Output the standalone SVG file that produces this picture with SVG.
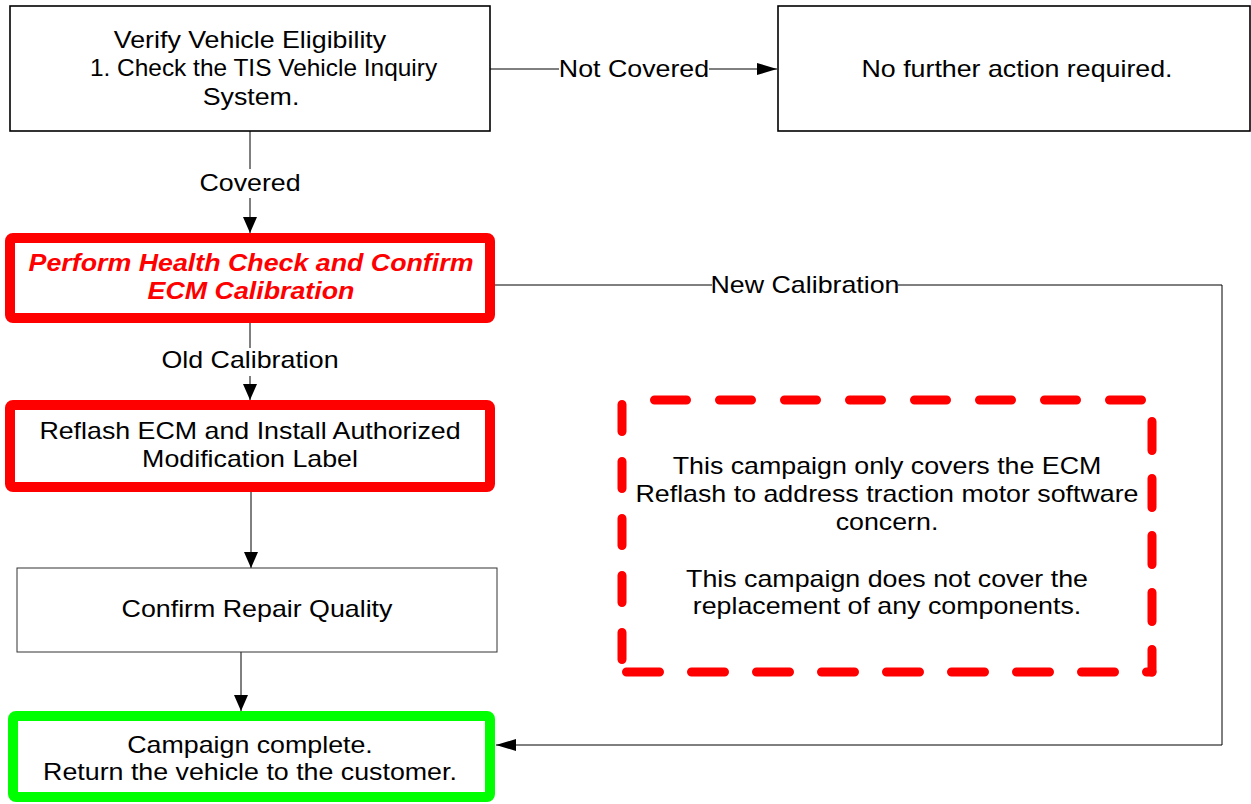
<svg xmlns="http://www.w3.org/2000/svg" width="1251" height="804" viewBox="0 0 1251 804">
<defs>
<marker id="ah" viewBox="0 0 16 14" refX="16" refY="7" markerWidth="16" markerHeight="14" markerUnits="userSpaceOnUse" orient="auto"><path d="M0,0 L16,7 L0,14 z" fill="#000"/></marker>
<marker id="ahw" viewBox="0 0 20 12" refX="20" refY="6" markerWidth="20" markerHeight="12" markerUnits="userSpaceOnUse" orient="auto"><path d="M0,0 L20,6 L0,12 z" fill="#000"/></marker>
</defs>
<style>
text{font-family:"Liberation Sans",Arial,sans-serif;font-size:23px;fill:#000;text-anchor:middle}
.box{fill:#fff;stroke:#000;stroke-width:1.6}
.thin{fill:#fff;stroke:#333;stroke-width:1}
.red{fill:#fff;stroke:#f00;stroke-width:10}
.green{fill:#fff;stroke:#0f0;stroke-width:10}
.conn{fill:none;stroke:#000;stroke-width:1}
.lbl{fill:#fff}
.rt{fill:#f00;font-weight:bold;font-style:italic}
.dash{fill:none;stroke:#f00;stroke-width:9;stroke-linecap:round}
</style>
<rect width="1251" height="804" fill="#fff"/>
<g id="connectors">
<path class="conn" d="M490,69 H777" marker-end="url(#ahw)"/>
<rect class="lbl" x="559" y="56" width="150" height="26"/>
<text transform="translate(634,77) scale(1.165,1)">Not Covered</text>
<path class="conn" d="M250,131 V233" marker-end="url(#ah)"/>
<rect class="lbl" x="198" y="169" width="104" height="29"/>
<text transform="translate(250,191) scale(1.165,1)">Covered</text>
<path class="conn" d="M250,323 V400" marker-end="url(#ah)"/>
<rect class="lbl" x="160" y="348" width="180" height="28"/>
<text transform="translate(250,368) scale(1.165,1)">Old Calibration</text>
<path class="conn" d="M251,492 V568" marker-end="url(#ah)"/>
<path class="conn" d="M241,652 V711" marker-end="url(#ah)"/>
<path class="conn" d="M495,285 H1222 V745 H496" marker-end="url(#ahw)"/>
<rect class="lbl" x="712" y="272" width="186" height="26"/>
<text transform="translate(805,293) scale(1.165,1)">New Calibration</text>
</g>
<g id="verify">
<rect class="box" x="10" y="6" width="480" height="125"/>
<text transform="translate(250,48) scale(1.165,1)">Verify Vehicle Eligibility</text>
<text transform="translate(263.5,76) scale(1.165,1)" textLength="298" lengthAdjust="spacingAndGlyphs">1. Check the TIS Vehicle Inquiry</text>
<text transform="translate(251,105) scale(1.165,1)">System.</text>
</g>
<g id="nofurther">
<rect class="box" x="778" y="6" width="472" height="125"/>
<text transform="translate(1017,77) scale(1.165,1)">No further action required.</text>
</g>
<g id="health">
<rect class="red" x="10" y="238" width="480" height="80" rx="3"/>
<text class="rt" transform="translate(251,271) scale(1.165,1)">Perform Health Check and Confirm</text>
<text class="rt" transform="translate(251,299) scale(1.165,1)">ECM Calibration</text>
</g>
<g id="reflash">
<rect class="red" x="10" y="405" width="480" height="82" rx="3"/>
<text transform="translate(250,439) scale(1.165,1)">Reflash ECM and Install Authorized</text>
<text transform="translate(250,467) scale(1.165,1)">Modification Label</text>
</g>
<g id="confirm">
<rect class="thin" x="17" y="568" width="480" height="84"/>
<text transform="translate(257,617) scale(1.165,1)">Confirm Repair Quality</text>
</g>
<g id="complete">
<rect class="green" x="13" y="716" width="477" height="81" rx="3"/>
<text transform="translate(250,753) scale(1.165,1)">Campaign complete.</text>
<text transform="translate(250,780) scale(1.165,1)">Return the vehicle to the customer.</text>
</g>
<g id="note">
<path class="dash" d="M622,400 H1152" stroke-dasharray="32 33" stroke-dashoffset="32.5"/>
<path class="dash" d="M1152,400 V672" stroke-dasharray="29 28" stroke-dashoffset="35.5"/>
<path class="dash" d="M1152,672 H622" stroke-dasharray="33 32" stroke-dashoffset="27.5"/>
<path class="dash" d="M622,400 V672" stroke-dasharray="27 30" stroke-dashoffset="52.5"/>
<text transform="translate(887,474) scale(1.165,1)">This campaign only covers the ECM</text>
<text transform="translate(887,502) scale(1.165,1)">Reflash to address traction motor software</text>
<text transform="translate(887,530) scale(1.165,1)">concern.</text>
<text transform="translate(887,587) scale(1.165,1)">This campaign does not cover the</text>
<text transform="translate(887,614) scale(1.165,1)">replacement of any components.</text>
</g>
</svg>
